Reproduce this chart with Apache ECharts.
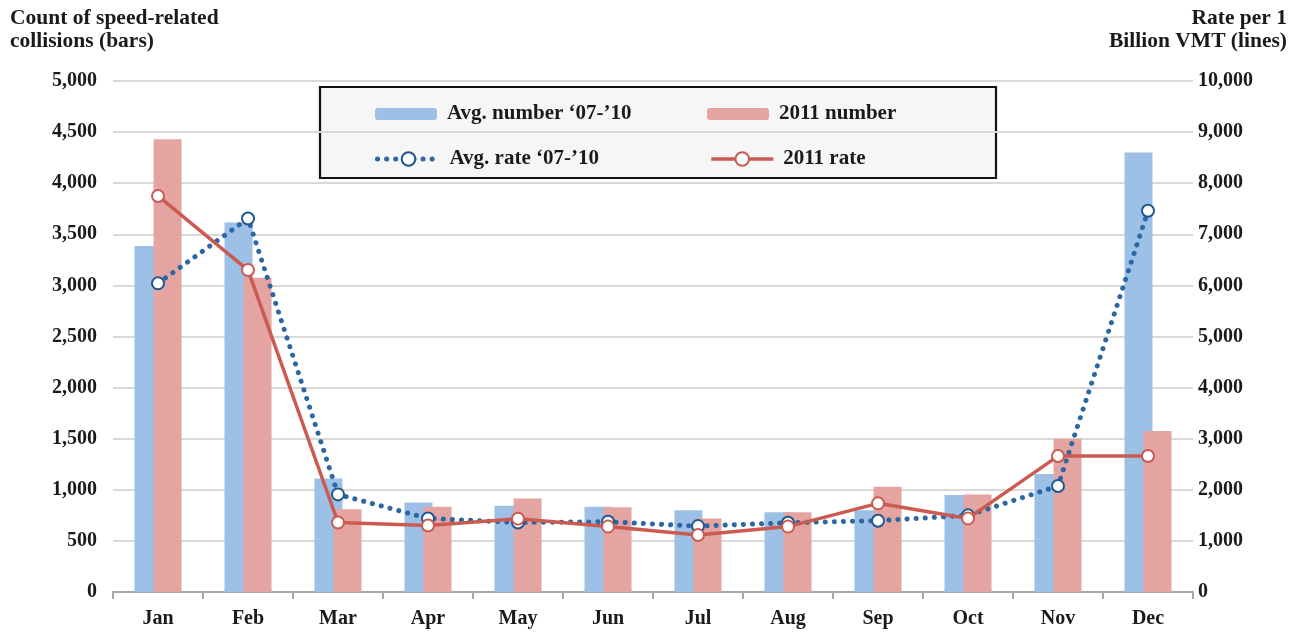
<!DOCTYPE html>
<html>
<head>
<meta charset="utf-8">
<script src="https://cdn.jsdelivr.net/npm/echarts@6/dist/echarts.min.js"></script>
<style>
  html, body { margin: 0; padding: 0; background: #fff; }
  #chart { width: 1296px; height: 633px; }
</style>
</head>
<body>
<div id="chart"></div>
<script>
// Monthly speed-related collisions: counts (bars, left axis) and rates (lines, right axis)
const months = ['Jan', 'Feb', 'Mar', 'Apr', 'May', 'Jun', 'Jul', 'Aug', 'Sep', 'Oct', 'Nov', 'Dec'];
const avgNumber = [3385, 3615, 1110, 875, 845, 835, 800, 780, 800, 950, 1155, 4300];
const number2011 = [4430, 3075, 810, 835, 915, 830, 720, 780, 1030, 955, 1500, 1575];
const avgRate = [6040, 7310, 1910, 1440, 1360, 1375, 1290, 1355, 1395, 1500, 2075, 7460];
const rate2011 = [7750, 6300, 1360, 1300, 1435, 1280, 1115, 1280, 1735, 1440, 2660, 2660];

const countTicks = { min: 0, max: 5000, interval: 500 };
const rateTicks = { min: 0, max: 10000, interval: 1000 };

const names = {
  avgNumber: 'Avg. number \u201807-\u201910',
  number2011: '2011 number',
  avgRate: 'Avg. rate \u201807-\u201910',
  rate2011: '2011 rate'
};

const FONT = '"Liberation Serif", "DejaVu Serif", serif';
const TEXT = '#1a1a1a';
const BLUE_BAR = '#9dc1e6';
const RED_BAR = '#e3a4a2';
const BLUE_LINE = '#2c66a3';
const BLUE_MARK = '#1f568f';
const RED_LINE = '#cb5a50';

const dotted = { color: BLUE_LINE, width: 5, type: [0.1, 9], cap: 'round' };
const solidRed = { color: RED_LINE, width: 3.5 };

const fmt = v => v.toString().replace(/\B(?=(\d{3})+(?!\d))/g, ',');

const chart = echarts.init(document.getElementById('chart'), null, { renderer: 'canvas' });

const legendText = {
  fontFamily: FONT, fontWeight: 'bold', fontSize: 21, color: TEXT,
  width: 250, lineHeight: 22, padding: [0, 0, 0, 5]
};
const axisFont = { fontFamily: FONT, fontWeight: 'bold', fontSize: 20, color: TEXT };
const titleFont = { font: 'bold 21.5px ' + FONT, fill: TEXT, lineHeight: 23, verticalAlign: 'top' };

chart.setOption({
  animation: false,
  backgroundColor: '#fff',
  graphic: [
    {
      type: 'text', x: 10, y: 7,
      style: Object.assign({ text: 'Count of speed-related\ncollisions (bars)', align: 'left' }, titleFont)
    },
    {
      type: 'text', x: 1287, y: 7,
      style: Object.assign({ text: 'Rate per 1\nBillion VMT (lines)', align: 'right' }, titleFont)
    },
    {
      type: 'rect', z: 0,
      shape: { x: 320, y: 87, width: 676, height: 91 },
      style: { fill: '#f6f6f6', stroke: '#111', lineWidth: 2.2 }
    }
  ],
  legend: [
    {
      data: [names.avgNumber, names.number2011],
      left: 370, top: 98, orient: 'horizontal',
      itemWidth: 62, itemHeight: 12, itemGap: 10,
      textStyle: legendText, z: 5
    },
    {
      data: [
        { name: names.avgRate, lineStyle: dotted },
        { name: names.rate2011, lineStyle: solidRed }
      ],
      left: 370, top: 143, orient: 'horizontal',
      itemWidth: 62, itemHeight: 17, itemGap: 10,
      textStyle: legendText, z: 5
    }
  ],
  grid: { left: 113, right: 103, top: 81, bottom: 41, containLabel: false },
  xAxis: {
    type: 'category',
    data: months,
    boundaryGap: true,
    axisLine: { show: true, lineStyle: { color: '#a6a6a6', width: 2 } },
    axisTick: { show: true, length: 7, alignWithLabel: false, lineStyle: { color: '#a6a6a6', width: 2 } },
    axisLabel: Object.assign({ margin: 17 }, axisFont)
  },
  yAxis: [
    {
      type: 'value',
      min: countTicks.min, max: countTicks.max, interval: countTicks.interval,
      axisLine: { show: false }, axisTick: { show: false },
      splitLine: { show: true, lineStyle: { color: '#d9d9d9', width: 2 } },
      axisLabel: Object.assign({ margin: 16, formatter: fmt }, axisFont)
    },
    {
      type: 'value',
      min: rateTicks.min, max: rateTicks.max, interval: rateTicks.interval,
      axisLine: { show: false }, axisTick: { show: false },
      splitLine: { show: false },
      axisLabel: Object.assign({ margin: 5, formatter: fmt }, axisFont)
    }
  ],
  series: [
    {
      name: names.avgNumber, type: 'bar', yAxisIndex: 0,
      data: avgNumber, barWidth: 28, barGap: '-32%',
      itemStyle: { color: BLUE_BAR }, z: 2
    },
    {
      name: names.number2011, type: 'bar', yAxisIndex: 0,
      data: number2011, barWidth: 28, barGap: '-32%',
      itemStyle: { color: RED_BAR }, z: 2
    },
    {
      name: names.avgRate, type: 'line', yAxisIndex: 1,
      data: avgRate,
      symbol: 'emptyCircle', symbolSize: 12, showAllSymbol: true,
      lineStyle: dotted,
      itemStyle: { color: BLUE_MARK, borderWidth: 4 },
      z: 3
    },
    {
      name: names.rate2011, type: 'line', yAxisIndex: 1,
      data: rate2011,
      symbol: 'emptyCircle', symbolSize: 12, showAllSymbol: true,
      lineStyle: solidRed,
      itemStyle: { color: RED_LINE, borderWidth: 4 },
      z: 4
    }
  ]
});
</script>
</body>
</html>
